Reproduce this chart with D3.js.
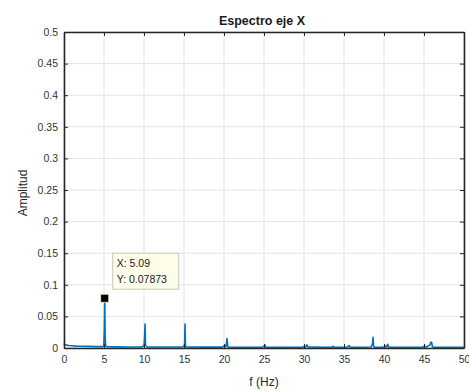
<!DOCTYPE html>
<html>
<head>
<meta charset="utf-8">
<script src="https://cdn.jsdelivr.net/npm/d3@7"></script>
<style>
  html, body { margin: 0; padding: 0; background: #fff; }
  svg { display: block; font-family: "Liberation Sans", Arial, sans-serif; }
</style>
</head>
<body>
<svg id="chart" width="469" height="392"></svg>
<script>
// Amplitude spectrum of the X-axis signal (frequency in Hz, amplitude)
const freq = [0, 0.1, 0.3, 0.6, 1.0, 1.5, 2.0, 3.0, 4.0, 4.9, 4.98, 5.04, 5.09, 5.14, 5.2, 5.4,
  6.5, 8.0, 9.7, 9.95, 10.02, 10.08, 10.13, 10.19, 10.4, 12.5, 14.8, 15.02, 15.08, 15.13, 15.18, 15.24,
  17.5, 19.8, 20.1, 20.25, 20.38, 20.46, 20.55, 22.5, 24.8, 25.0, 25.1, 25.2, 25.35, 27.5, 29.8, 30.05,
  30.2, 30.35, 30.5, 32.5, 33.5, 33.6, 33.75, 35.2, 35.5, 35.62, 35.75, 37.5, 38.4, 38.55, 38.63, 38.7,
  38.8, 39.9, 40.2, 40.35, 40.45, 40.6, 42.5, 44.8, 45.1, 45.2, 45.35, 45.75, 45.85, 45.95, 46.05, 46.3,
  48.5, 50.0];
const amp = [0.0075, 0.0055, 0.0045, 0.004, 0.0035, 0.003, 0.0028, 0.0025, 0.0022, 0.0022, 0.004, 0.03, 0.07873, 0.02, 0.003, 0.002,
  0.0018, 0.0016, 0.0016, 0.003, 0.006, 0.02, 0.038, 0.004, 0.0016, 0.0015, 0.0015, 0.004, 0.006, 0.038, 0.004, 0.0015,
  0.0014, 0.0014, 0.004, 0.002, 0.015, 0.003, 0.0014, 0.0013, 0.0013, 0.003, 0.005, 0.002, 0.0013, 0.0013, 0.0013, 0.003,
  0.0015, 0.005, 0.0018, 0.0013, 0.0013, 0.003, 0.0013, 0.0013, 0.002, 0.004, 0.0013, 0.0013, 0.0015, 0.006, 0.017, 0.003,
  0.0013, 0.0013, 0.003, 0.0015, 0.006, 0.0013, 0.0013, 0.0013, 0.003, 0.0018, 0.002, 0.005, 0.009, 0.009, 0.002, 0.0013,
  0.0013, 0.0013];

const xTicks = [0, 5, 10, 15, 20, 25, 30, 35, 40, 45, 50];
const yTicks = [0, 0.05, 0.1, 0.15, 0.2, 0.25, 0.3, 0.35, 0.4, 0.45, 0.5];

// Highlighted data cursor point
const tipX = [5.09];
const tipY = [0.07873];

const titleText = "Espectro eje X";
const xLabel = "f (Hz)";
const yLabel = "Amplitud";

const margin = { left: 64, top: 32, right: 5, bottom: 44 };
const W = 469, H = 392;
const svg = d3.select("#chart");

const x = d3.scaleLinear().domain([0, 50]).range([margin.left, W - margin.right]);
const y = d3.scaleLinear().domain([0, 0.5]).range([H - margin.bottom, margin.top]);

const x0 = x.range()[0], x1 = x.range()[1];
const y0 = y.range()[0], y1 = y.range()[1];

// Grid
const grid = svg.append("g").attr("stroke", "#e3e3e3").attr("stroke-width", 1);
grid.selectAll("line.gx").data(xTicks).join("line")
  .attr("x1", d => x(d)).attr("x2", d => x(d)).attr("y1", y1).attr("y2", y0);
grid.selectAll("line.gy").data(yTicks).join("line")
  .attr("x1", x0).attr("x2", x1).attr("y1", d => y(d)).attr("y2", d => y(d));

// Spectrum line
const line = d3.line().x((d, i) => x(freq[i])).y((d, i) => y(amp[i]));
svg.append("path")
  .datum(amp)
  .attr("fill", "none")
  .attr("stroke", "#0072BD")
  .attr("stroke-width", 1.6)
  .attr("stroke-linejoin", "round")
  .attr("d", line);

// Axes (ticks point inward, box around the plot)
const tickFmt = d => d === 0 ? "0" : String(+d.toFixed(2));
const axColor = "#262626";

const axBottom = svg.append("g").attr("transform", `translate(0,${y0})`)
  .call(d3.axisBottom(x).tickValues(xTicks).tickFormat(tickFmt).tickSizeInner(-4).tickSizeOuter(0).tickPadding(8));
const axTop = svg.append("g").attr("transform", `translate(0,${y1})`)
  .call(d3.axisTop(x).tickValues(xTicks).tickFormat("").tickSizeInner(-4).tickSizeOuter(0));
const axLeft = svg.append("g").attr("transform", `translate(${x0},0)`)
  .call(d3.axisLeft(y).tickValues(yTicks).tickFormat(tickFmt).tickSizeInner(-4).tickSizeOuter(0).tickPadding(6));
const axRight = svg.append("g").attr("transform", `translate(${x1},0)`)
  .call(d3.axisRight(y).tickValues(yTicks).tickFormat("").tickSizeInner(-4).tickSizeOuter(0));

[axBottom, axTop, axLeft, axRight].forEach(g => {
  g.select(".domain").attr("stroke", axColor).attr("stroke-width", 1.6);
  g.selectAll(".tick line").attr("stroke", axColor).attr("stroke-width", 1);
  g.selectAll(".tick text").attr("fill", "#333").attr("font-size", 10.5)
    .attr("font-family", "'Liberation Sans', Arial, sans-serif");
});

// Title and axis labels
svg.append("text")
  .attr("x", (x0 + x1) / 2 - 2).attr("y", 25)
  .attr("text-anchor", "middle")
  .attr("font-size", 12.5).attr("font-weight", "bold").attr("fill", "#1a1a1a")
  .text(titleText);
svg.append("text")
  .attr("x", (x0 + x1) / 2).attr("y", 386)
  .attr("text-anchor", "middle")
  .attr("font-size", 12).attr("fill", "#262626")
  .text(xLabel);
svg.append("text")
  .attr("transform", `translate(27,${(y0 + y1) / 2 + 3}) rotate(-90)`)
  .attr("text-anchor", "middle")
  .attr("font-size", 12).attr("fill", "#262626")
  .text(yLabel);

// Data cursor: marker and tip box
const tx = x(tipX[0]), ty = y(tipY[0]);
svg.append("rect")
  .attr("x", tx - 4).attr("y", ty - 4).attr("width", 8).attr("height", 8)
  .attr("fill", "#000").attr("stroke", "#e8e8c0").attr("stroke-width", 0.8);

const box = svg.append("g").attr("transform", `translate(${tx + 8},${ty - 45})`);
box.append("rect")
  .attr("width", 66).attr("height", 36)
  .attr("fill", "#fdfde9").attr("stroke", "#c8c8b8").attr("stroke-width", 1);
box.append("text").attr("x", 4).attr("y", 14)
  .attr("font-size", 10.5).attr("fill", "#1a1a1a")
  .text(`X: ${tipX[0]}`);
box.append("text").attr("x", 4).attr("y", 30)
  .attr("font-size", 10.5).attr("fill", "#1a1a1a")
  .text(`Y: ${tipY[0]}`);
</script>
</body>
</html>
